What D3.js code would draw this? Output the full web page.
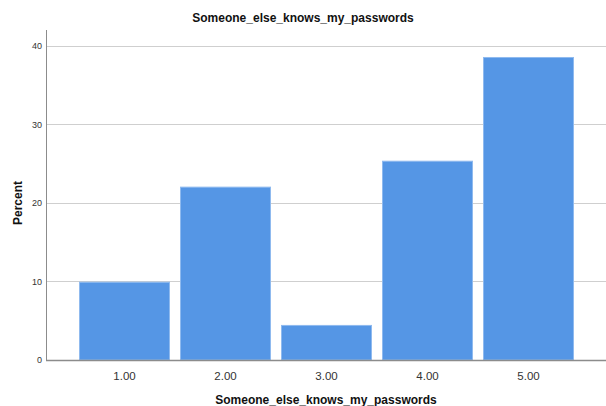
<!DOCTYPE html>
<html><head><meta charset="utf-8">
<script src="https://cdn.jsdelivr.net/npm/d3@7"></script>
<style>
body{margin:0;background:#fff;}
svg{display:block;font-family:"Liberation Sans",Arial,sans-serif;}
</style></head>
<body>
<svg id="chart" width="606" height="406"></svg>
<script>
const categories = ["1.00","2.00","3.00","4.00","5.00"];
const percents = [9.9, 22.0, 4.4, 25.3, 38.5];
const yTicks = [0,10,20,30,40];
const title = "Someone_else_knows_my_passwords";
const xLabel = "Someone_else_knows_my_passwords";
const yLabel = "Percent";

const svg = d3.select("#chart");
const mLeft = 46, mRight = 606, mBottom = 360, mTop = 30;

const x = d3.scaleBand().domain(categories).range([79, 574]).paddingInner(0.099).paddingOuter(0);
const y = d3.scaleLinear().domain([0, 40]).range([360, 45.7]);

// gridlines
svg.append("g").selectAll("line").data(yTicks.filter(d=>d>0)).join("line")
  .attr("x1", mLeft).attr("x2", mRight)
  .attr("y1", d=>Math.round(y(d))+0.5).attr("y2", d=>Math.round(y(d))+0.5)
  .attr("stroke", "#cfcfcf").attr("stroke-width", 1);

// bars
svg.append("g").selectAll("rect").data(categories).join("rect")
  .attr("x", d=>x(d)+0.5)
  .attr("y", (d,i)=>y(percents[i]))
  .attr("width", x.bandwidth()-1)
  .attr("height", (d,i)=>y(0)-y(percents[i]))
  .attr("fill", "#5596e5")
  .attr("stroke", "#8fbaef").attr("stroke-width", 1);

// y axis line
svg.append("line").attr("x1", mLeft+0.5).attr("x2", mLeft+0.5).attr("y1", mTop).attr("y2", mBottom)
  .attr("stroke", "#8c8c8c");
// x axis line
svg.append("line").attr("x1", mLeft).attr("x2", mRight).attr("y1", mBottom+0.5).attr("y2", mBottom+0.5)
  .attr("stroke", "#8c8c8c").attr("stroke-width", 1.5);

// y tick labels
const yAxis = d3.axisLeft(y).tickValues(yTicks).tickSize(0).tickPadding(4).tickFormat(d3.format("d"));
const ga = svg.append("g").attr("transform", `translate(${mLeft},0)`).call(yAxis);
ga.select(".domain").remove();
ga.selectAll("text").attr("font-size", 9).attr("fill", "#333").attr("font-family", "Liberation Sans, Arial, sans-serif");

// x tick labels
const xAxis = d3.axisBottom(x).tickSize(0).tickPadding(12);
const gx = svg.append("g").attr("transform", `translate(0,${mBottom})`).call(xAxis);
gx.select(".domain").remove();
gx.selectAll("text").attr("font-size", 11.5).attr("fill", "#333").attr("font-family", "Liberation Sans, Arial, sans-serif");

// title
svg.append("text").attr("x", 303).attr("y", 22).attr("text-anchor", "middle")
  .attr("font-size", 12).attr("font-weight", "bold").attr("fill", "#111").text(title);
// x label
svg.append("text").attr("x", 326).attr("y", 404).attr("text-anchor", "middle")
  .attr("font-size", 12).attr("font-weight", "bold").attr("fill", "#111").text(xLabel);
// y label
svg.append("text").attr("transform", "translate(22,203) rotate(-90)").attr("text-anchor", "middle")
  .attr("font-size", 12).attr("font-weight", "bold").attr("fill", "#111").text(yLabel);
</script>
</body></html>
